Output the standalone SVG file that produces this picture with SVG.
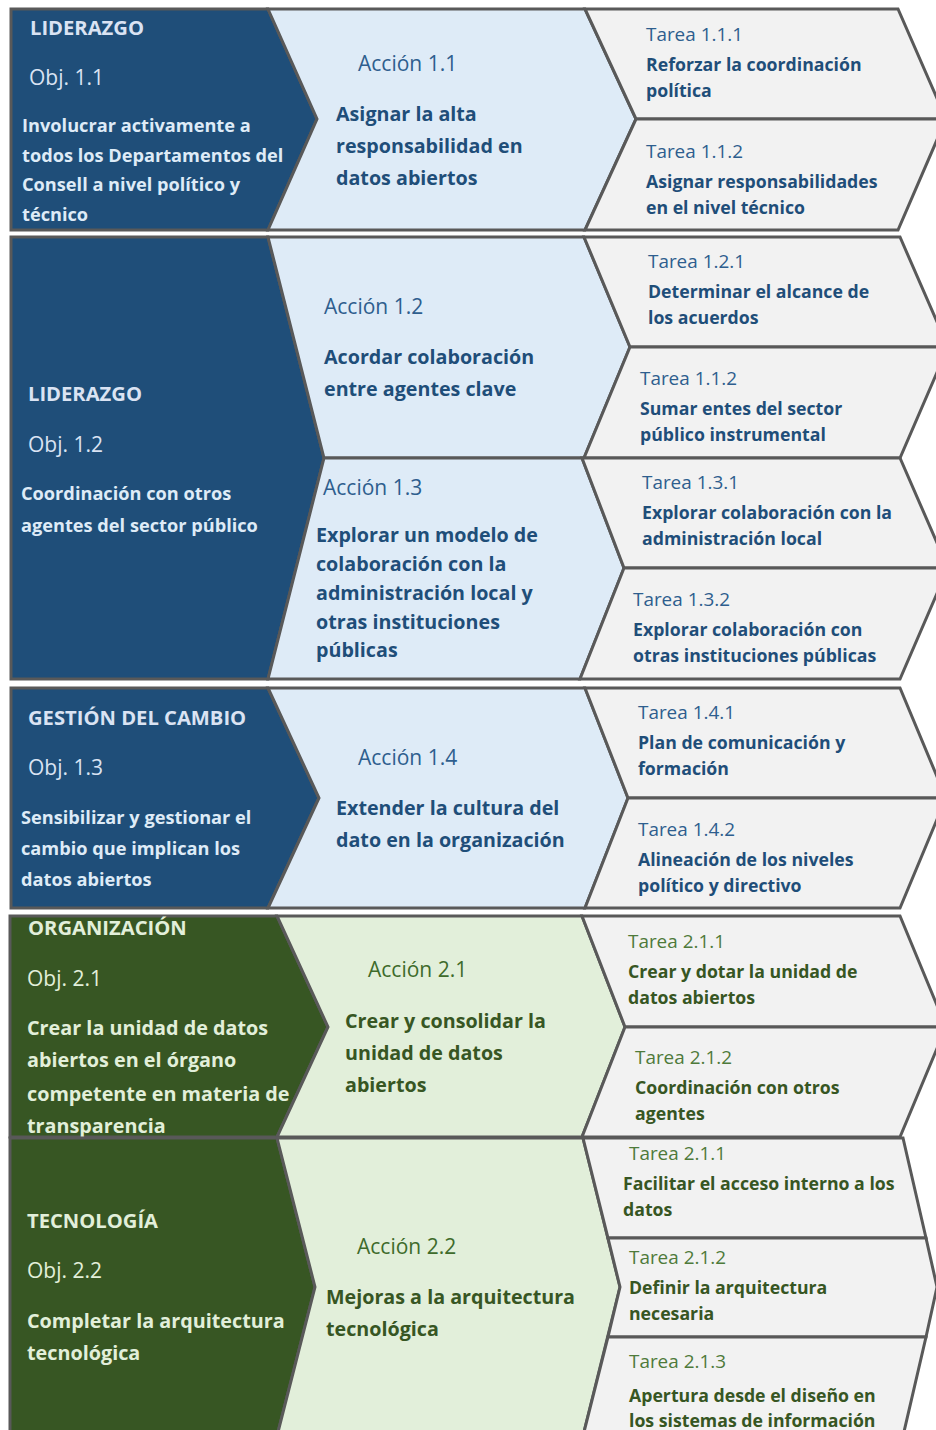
<svg xmlns="http://www.w3.org/2000/svg" width="936" height="1430" viewBox="0 0 936 1430">
<defs>
<style>
.sh{stroke:#595959;stroke-width:3;stroke-linejoin:miter}
.ob{fill:#1F4E79}.ab{fill:#DEEBF7}.tk{fill:#F2F2F2}
.og{fill:#375623}.ag{fill:#E2EFDA}
text{font-family:"Open Sans","Liberation Sans",sans-serif}
.ttl{font-weight:bold;font-size:20.2px;fill:#DAE3F3}
.obj{font-size:21px;fill:#DAE3F3}
.od{font-weight:bold;font-size:18.2px;fill:#DEEBF7}
.ttlg{font-weight:bold;font-size:20.2px;fill:#E2EFDA}
.objg{font-size:21px;fill:#E2EFDA}
.odg{font-weight:bold;font-size:19.8px;fill:#E2EFDA}
.al{font-size:21px;fill:#2E5E8E}
.ad{font-weight:bold;font-size:19.7px;fill:#1F4E79}
.alg{font-size:21px;fill:#3E6B2B}
.adg{font-weight:bold;font-size:19.7px;fill:#375623}
.tl{font-size:18.9px;fill:#2E5E8E}
.td{font-weight:bold;font-size:17.7px;fill:#1F4E79}
.tlg{font-size:18.9px;fill:#4E7A3A}
.tdg{font-weight:bold;font-size:17.7px;fill:#375623}
</style>
</defs>
<rect width="936" height="1430" fill="#FFFFFF"/>
<g id="connectors"/>

<g id="section1">
<g id="obj-1-1">
<polygon class="sh ob" points="11,9 268,9 317,119 268,230 11,230"/>
<text class="ttl" x="30" y="35">LIDERAZGO</text>
<text class="obj" x="29" y="85">Obj. 1.1</text>
<text class="od" x="22" y="132">Involucrar activamente a</text>
<text class="od" x="22" y="162">todos los Departamentos del</text>
<text class="od" x="22" y="191">Consell a nivel político y</text>
<text class="od" x="22" y="221">técnico</text>
</g>
<g id="accion-1-1">
<polygon class="sh ab" points="268,9 585,9 636,119 585,230 268,230 317,119"/>
<text class="al" x="358" y="71">Acción 1.1</text>
<text class="ad" x="336" y="121">Asignar la alta</text>
<text class="ad" x="336" y="153">responsabilidad en</text>
<text class="ad" x="336" y="185">datos abiertos</text>
</g>
<g id="tarea-1-1-1">
<polygon class="sh tk" points="585,9 898,9 946,119 636,119"/>
<text class="tl" x="646" y="41">Tarea 1.1.1</text>
<text class="td" x="646" y="71">Reforzar la coordinación</text>
<text class="td" x="646" y="97">política</text>
</g>
<g id="tarea-1-1-2">
<polygon class="sh tk" points="636,119 946,119 898,230 585,230"/>
<text class="tl" x="646" y="158">Tarea 1.1.2</text>
<text class="td" x="646" y="188">Asignar responsabilidades</text>
<text class="td" x="646" y="214">en el nivel técnico</text>
</g>
</g>

<g id="section2">
<g id="obj-1-2">
<polygon class="sh ob" points="11,237 268,237 324,458 268,679 11,679"/>
<text class="ttl" x="28" y="401">LIDERAZGO</text>
<text class="obj" x="28" y="452">Obj. 1.2</text>
<text class="od" x="21" y="500">Coordinación con otros</text>
<text class="od" x="21" y="532">agentes del sector público</text>
</g>
<g id="accion-1-2">
<polygon class="sh ab" points="268,237 584,237 630,347 584,458 324,458"/>
<text class="al" x="324" y="314">Acción 1.2</text>
<text class="ad" x="324" y="364">Acordar colaboración</text>
<text class="ad" x="324" y="396">entre agentes clave</text>
</g>
<g id="accion-1-3">
<polygon class="sh ab" points="324,458 582,458 624,568 580,679 268,679"/>
<text class="al" x="323" y="495">Acción 1.3</text>
<text class="ad" x="316" y="542">Explorar un modelo de</text>
<text class="ad" x="316" y="571">colaboración con la</text>
<text class="ad" x="316" y="600">administración local y</text>
<text class="ad" x="316" y="629">otras instituciones</text>
<text class="ad" x="316" y="657">públicas</text>
</g>
<g id="tarea-1-2-1">
<polygon class="sh tk" points="584,237 900,237 948,347 630,347"/>
<text class="tl" x="648" y="268">Tarea 1.2.1</text>
<text class="td" x="648" y="298">Determinar el alcance de</text>
<text class="td" x="648" y="324">los acuerdos</text>
</g>
<g id="tarea-1-1-2b">
<polygon class="sh tk" points="630,347 948,347 900,458 584,458"/>
<text class="tl" x="640" y="385">Tarea 1.1.2</text>
<text class="td" x="640" y="415">Sumar entes del sector</text>
<text class="td" x="640" y="441">público instrumental</text>
</g>
<g id="tarea-1-3-1">
<polygon class="sh tk" points="582,458 900,458 948,568 624,568"/>
<text class="tl" x="642" y="489">Tarea 1.3.1</text>
<text class="td" x="642" y="519">Explorar colaboración con la</text>
<text class="td" x="642" y="545">administración local</text>
</g>
<g id="tarea-1-3-2">
<polygon class="sh tk" points="624,568 948,568 900,679 580,679"/>
<text class="tl" x="633" y="606">Tarea 1.3.2</text>
<text class="td" x="633" y="636">Explorar colaboración con</text>
<text class="td" x="633" y="662">otras instituciones públicas</text>
</g>
</g>

<g id="section3">
<g id="obj-1-3">
<polygon class="sh ob" points="11,688 268,688 319,798 268,908 11,908"/>
<text class="ttl" x="28" y="725">GESTIÓN DEL CAMBIO</text>
<text class="obj" x="28" y="775">Obj. 1.3</text>
<text class="od" x="21" y="824">Sensibilizar y gestionar el</text>
<text class="od" x="21" y="855">cambio que implican los</text>
<text class="od" x="21" y="886">datos abiertos</text>
</g>
<g id="accion-1-4">
<polygon class="sh ab" points="268,688 585,688 628,798 585,908 268,908 319,798"/>
<text class="al" x="358" y="765">Acción 1.4</text>
<text class="ad" x="336" y="815">Extender la cultura del</text>
<text class="ad" x="336" y="847">dato en la organización</text>
</g>
<g id="tarea-1-4-1">
<polygon class="sh tk" points="585,688 900,688 946,798 628,798"/>
<text class="tl" x="638" y="719">Tarea 1.4.1</text>
<text class="td" x="638" y="749">Plan de comunicación y</text>
<text class="td" x="638" y="775">formación</text>
</g>
<g id="tarea-1-4-2">
<polygon class="sh tk" points="628,798 946,798 900,908 585,908"/>
<text class="tl" x="638" y="836">Tarea 1.4.2</text>
<text class="td" x="638" y="866">Alineación de los niveles</text>
<text class="td" x="638" y="892">político y directivo</text>
</g>
</g>

<g id="section4">
<g id="obj-2-1">
<polygon class="sh og" points="10,916 277,916 328,1027 277,1137 10,1137"/>
<text class="ttlg" x="28" y="935">ORGANIZACIÓN</text>
<text class="objg" x="27" y="986">Obj. 2.1</text>
<text class="odg" x="27" y="1035">Crear la unidad de datos</text>
<text class="odg" x="27" y="1067">abiertos en el órgano</text>
<text class="odg" x="27" y="1101">competente en materia de</text>
<text class="odg" x="27" y="1133">transparencia</text>
</g>
<g id="accion-2-1">
<polygon class="sh ag" points="277,916 582,916 625,1027 582,1137 277,1137 328,1027"/>
<text class="alg" x="368" y="977">Acción 2.1</text>
<text class="adg" x="345" y="1028">Crear y consolidar la</text>
<text class="adg" x="345" y="1060">unidad de datos</text>
<text class="adg" x="345" y="1092">abiertos</text>
</g>
<g id="tarea-2-1-1">
<polygon class="sh tk" points="582,916 900,916 946,1027 625,1027"/>
<text class="tlg" x="628" y="948">Tarea 2.1.1</text>
<text class="tdg" x="628" y="978">Crear y dotar la unidad de</text>
<text class="tdg" x="628" y="1004">datos abiertos</text>
</g>
<g id="tarea-2-1-2">
<polygon class="sh tk" points="625,1027 946,1027 900,1137 582,1137"/>
<text class="tlg" x="635" y="1064">Tarea 2.1.2</text>
<text class="tdg" x="635" y="1094">Coordinación con otros</text>
<text class="tdg" x="635" y="1120">agentes</text>
</g>
</g>

<g id="section5">
<g id="obj-2-2">
<polygon class="sh og" points="10,1138 277,1138 315,1287 277,1436 10,1436"/>
<text class="ttlg" x="27" y="1228">TECNOLOGÍA</text>
<text class="objg" x="27" y="1278">Obj. 2.2</text>
<text class="odg" x="27" y="1328">Completar la arquitectura</text>
<text class="odg" x="27" y="1360">tecnológica</text>
</g>
<g id="accion-2-2">
<polygon class="sh ag" points="277,1138 583,1138 620,1287 583,1436 277,1436 315,1287"/>
<text class="alg" x="357" y="1254">Acción 2.2</text>
<text class="adg" x="326" y="1304">Mejoras a la arquitectura</text>
<text class="adg" x="326" y="1336">tecnológica</text>
</g>
<g id="tarea-2-1-1b">
<polygon class="sh tk" points="583,1138 903,1138 926,1238 608,1238"/>
<text class="tlg" x="629" y="1160">Tarea 2.1.1</text>
<text class="tdg" x="623" y="1190">Facilitar el acceso interno a los</text>
<text class="tdg" x="623" y="1216">datos</text>
</g>
<g id="tarea-2-1-2b">
<polygon class="sh tk" points="608,1238 926,1238 937,1287 926,1337 608,1337 620,1287"/>
<text class="tlg" x="629" y="1264">Tarea 2.1.2</text>
<text class="tdg" x="629" y="1294">Definir la arquitectura</text>
<text class="tdg" x="629" y="1320">necesaria</text>
</g>
<g id="tarea-2-1-3">
<polygon class="sh tk" points="608,1337 926,1337 903,1436 583,1436"/>
<text class="tlg" x="629" y="1368">Tarea 2.1.3</text>
<text class="tdg" x="629" y="1402">Apertura desde el diseño en</text>
<text class="tdg" x="629" y="1427">los sistemas de información</text>
</g>
</g>
</svg>
